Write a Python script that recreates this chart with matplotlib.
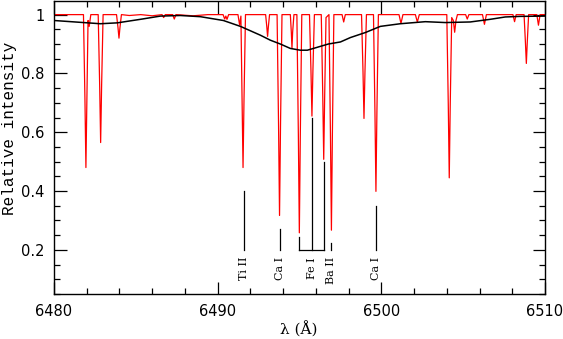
import matplotlib
matplotlib.use("Agg")
import matplotlib.pyplot as plt
from matplotlib.ticker import MultipleLocator, FixedLocator, FixedFormatter

red_wave = [6480.00, 6481.80, 6481.89, 6481.95, 6482.01, 6482.08, 6482.15, 6482.25,
            6482.70, 6482.79, 6482.85, 6482.91, 6483.00,
            6483.82, 6483.91, 6483.97, 6484.03, 6484.12,
            6484.60, 6485.30, 6486.00, 6486.60, 6486.70, 6486.80,
            6487.25, 6487.35, 6487.45, 6488.50, 6489.40,
            6490.33, 6490.43, 6490.50, 6490.57, 6490.67,
            6491.24, 6491.34, 6491.42, 6491.49, 6491.55, 6491.61, 6491.70,
            6492.93, 6493.00, 6493.05, 6493.10, 6493.17,
            6493.63, 6493.72, 6493.78, 6493.84, 6493.93,
            6494.44, 6494.50, 6494.54, 6494.58, 6494.66,
            6494.84, 6494.93, 6494.99, 6495.05, 6495.14,
            6495.61, 6495.70, 6495.76, 6495.82, 6495.91,
            6496.33, 6496.42, 6496.48, 6496.54, 6496.62,
            6496.80, 6496.89, 6496.95, 6497.01, 6497.10,
            6497.60, 6497.70, 6497.80,
            6498.79, 6498.88, 6498.94, 6499.00, 6499.09,
            6499.52, 6499.61, 6499.67, 6499.73, 6499.82,
            6501.08, 6501.20, 6501.32,
            6502.08, 6502.20, 6502.32,
            6504.00, 6504.09, 6504.15, 6504.21, 6504.30, 6504.40, 6504.48, 6504.56, 6504.65,
            6505.15, 6505.25, 6505.35,
            6506.18, 6506.30, 6506.42,
            6508.04, 6508.14, 6508.24,
            6508.72, 6508.80, 6508.86, 6508.92, 6509.00,
            6509.50, 6509.60, 6509.70, 6510.00]
red_flux = [1.000, 1.000, 0.714, 0.480, 0.714, 0.980, 0.960, 1.000,
            1.000, 0.761, 0.565, 0.761, 1.000,
            1.000, 0.956, 0.920, 0.956, 1.000,
            0.997, 1.000, 0.996, 1.000, 0.990, 1.000,
            1.000, 0.985, 1.000, 0.996, 1.000,
            1.000, 0.985, 0.995, 0.984, 1.000,
            1.000, 0.965, 0.995, 0.714, 0.480, 0.714, 1.000,
            1.000, 0.960, 0.926, 0.960, 1.000,
            1.000, 0.624, 0.317, 0.624, 1.000,
            1.000, 0.940, 0.886, 0.940, 1.000,
            1.000, 0.592, 0.258, 0.592, 1.000,
            1.000, 0.810, 0.655, 0.810, 1.000,
            1.000, 0.729, 0.508, 0.729, 0.990,
            1.000, 0.597, 0.267, 0.597, 1.000,
            1.000, 0.975, 1.000,
            1.000, 0.806, 0.647, 0.806, 1.000,
            1.000, 0.669, 0.399, 0.669, 1.000,
            1.000, 0.970, 1.000,
            1.000, 0.975, 1.000,
            1.000, 0.695, 0.445, 0.695, 0.990, 0.980, 0.940, 0.980, 1.000,
            1.000, 0.985, 1.000,
            1.000, 0.967, 1.000,
            1.000, 0.976, 1.000,
            1.000, 0.910, 0.834, 0.910, 1.000,
            1.000, 0.964, 1.000, 1.000]

# ---- broad comparison profile (black) ----
black_wave = [6480.00, 6482.83, 6483.87, 6485.28, 6486.50, 6487.72, 6488.94, 6490.35,
              6491.39, 6492.61, 6493.22, 6493.83, 6494.44, 6495.05, 6495.48, 6495.97,
              6496.76, 6497.50, 6498.11, 6499.02, 6499.94, 6501.16, 6502.69, 6503.91,
              6505.43, 6506.65, 6507.57, 6508.48, 6510.00]
black_flux = [0.980, 0.969, 0.972, 0.984, 0.995, 0.997, 0.993, 0.980,
              0.960, 0.930, 0.913, 0.900, 0.885, 0.879, 0.879, 0.887,
              0.900, 0.907, 0.922, 0.939, 0.960, 0.969, 0.976, 0.973,
              0.975, 0.984, 0.992, 0.994, 0.995]

# ---- line identifications ----
id_labels = ["Ti II", "Ca I", "Fe I", "Ba II", "Ca I"]
id_label_wave = [6491.59, 6493.79, 6495.77, 6496.93, 6499.68]
marker_wave = [6491.59, 6493.79, 6494.99, 6495.77, 6496.50, 6496.93, 6499.68]
marker_top = [0.40, 0.27, 0.245, 0.648, 0.50, 0.225, 0.35]
marker_bottom = 0.20
fe_bracket = [6494.99, 6496.50]
label_top = 0.176

x_ticks = [6480, 6490, 6500, 6510]
y_ticks = [0.2, 0.4, 0.6, 0.8, 1.0]
y_tick_labels = ["0.2", "0.4", "0.6", "0.8", "1"]

fig = plt.figure(figsize=(5.63, 3.39), dpi=100)
ax = fig.add_axes([54 / 563, 1 - 294 / 339, 491 / 563, 293.5 / 339])

ax.plot(red_wave, red_flux, color="#ff0000", lw=0.9, zorder=2)
ax.plot(black_wave, black_flux, color="black", lw=1.1, zorder=3)

for xw, yt in zip(marker_wave, marker_top):
    ax.plot([xw, xw], [marker_bottom, yt], color="black", lw=0.9, zorder=3)
ax.plot(fe_bracket, [marker_bottom, marker_bottom], color="black", lw=0.9, zorder=3)

for lab, xw in zip(id_labels, id_label_wave):
    ax.text(xw, label_top, lab, rotation=90, ha="center", va="top",
            fontsize=8, family="DejaVu Serif")

ax.set_xlim(6480, 6510)
ax.set_ylim(0.05, 1.048)
ax.xaxis.set_major_locator(FixedLocator(x_ticks))
ax.xaxis.set_minor_locator(MultipleLocator(2))
ax.yaxis.set_major_locator(FixedLocator(y_ticks))
ax.yaxis.set_major_formatter(FixedFormatter(y_tick_labels))
ax.yaxis.set_minor_locator(MultipleLocator(0.05))
ax.tick_params(which="both", direction="in", top=True, right=True, color="black", width=0.9)
ax.tick_params(which="major", length=9, labelsize=10.5, pad=7)
ax.tick_params(which="minor", length=4.5)
for lab in ax.get_xticklabels() + ax.get_yticklabels():
    lab.set_family("DejaVu Sans")
for s in ax.spines.values():
    s.set_linewidth(1.0)

ax.set_xlabel("λ (Å)", fontsize=11, family="DejaVu Serif")
ax.xaxis.set_label_coords((299 - 54) / 491, (294 - 330) / 293.5)
ax.xaxis.label.set_va("center")
ax.set_ylabel("Relative intensity", fontsize=11.5, family="Liberation Mono")
ax.yaxis.set_label_coords((10 - 54) / 491, (294 - 128) / 293.5)
ax.yaxis.label.set_va("center")

fig.savefig("out.png", dpi=100)
